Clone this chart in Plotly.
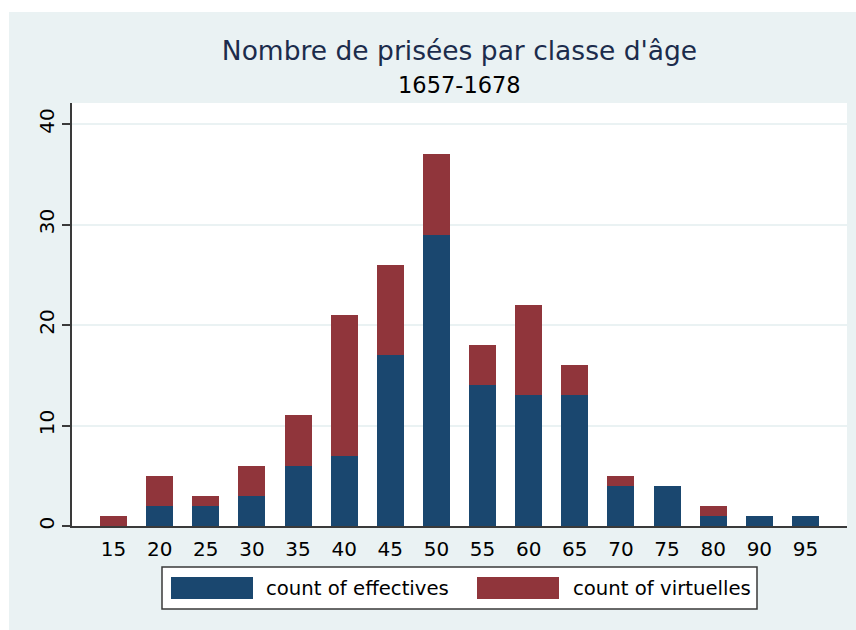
import plotly.graph_objects as go

# ---- data ----
age_classes = ["15", "20", "25", "30", "35", "40", "45", "50",
               "55", "60", "65", "70", "75", "80", "90", "95"]
effectives = [0, 2, 2, 3, 6, 7, 17, 29, 14, 13, 13, 4, 4, 1, 1, 1]
virtuelles = [1, 3, 1, 3, 5, 14, 9, 8, 4, 9, 3, 1, 0, 1, 0, 0]
y_tick_values = [0, 10, 20, 30, 40]
series_names = ["count of effectives", "count of virtuelles"]
title_text = "Nombre de prisées par classe d'âge"
subtitle_text = "1657-1678"

# ---- style ----
W, H = 856, 630
ML, MR, MT, MB = 72, 9, 103, 104
PW, PH = W - ML - MR, H - MT - MB
NAVY = "#1a476f"
MAROON = "#90353b"
BG = "#eaf2f3"
AXIS = "#3a3a3a"
FONT = "DejaVu Sans"


def px_x(x):
    return (x - ML) / PW


def px_y(y):
    return (H - MB - y) / PH


fig = go.Figure()
fig.add_trace(go.Bar(x=age_classes, y=effectives, name=series_names[0],
                     marker=dict(color=NAVY, line=dict(width=0))))
fig.add_trace(go.Bar(x=age_classes, y=virtuelles, name=series_names[1],
                     marker=dict(color=MAROON, line=dict(width=0))))

fig.update_layout(
    width=W, height=H,
    margin=dict(l=ML, r=MR, t=MT, b=MB),
    barmode="stack", bargap=0.415,
    paper_bgcolor=BG, plot_bgcolor="white",
    showlegend=False,
    font=dict(family=FONT, size=20, color="black"),
    title=dict(text=title_text, x=0.5, xref="paper", xanchor="center",
               y=1 - 51 / H, yref="container", yanchor="middle",
               font=dict(family=FONT, size=26.5, color="#1c2c4c")),
)

fig.update_xaxes(
    type="category", range=[-0.9, len(age_classes) - 0.1],
    showline=True, linecolor=AXIS, linewidth=1.5,
    ticks="", showgrid=False, tickfont=dict(size=20, color="black"),
    ticklabelstandoff=4,
)
fig.update_yaxes(
    range=[0, 42.1], tickvals=y_tick_values,
    showline=True, linecolor=AXIS, linewidth=1.5,
    ticks="outside", ticklen=8, tickcolor=AXIS, tickwidth=1.5,
    tickangle=-90, tickfont=dict(size=20, color="black"),
    showgrid=True, gridcolor=BG, gridwidth=1.5, zeroline=False,
)

# subtitle
fig.add_annotation(text=subtitle_text, xref="paper", yref="paper",
                   x=0.5, y=px_y(85), xanchor="center", yanchor="middle",
                   showarrow=False, font=dict(family=FONT, size=22.5, color="black"))

# white page border (top and left)
fig.add_shape(type="rect", xref="paper", yref="paper", layer="above",
              x0=px_x(0), x1=px_x(W), y0=px_y(12), y1=px_y(0),
              fillcolor="white", line=dict(width=0))
fig.add_shape(type="rect", xref="paper", yref="paper", layer="above",
              x0=px_x(0), x1=px_x(9), y0=px_y(H), y1=px_y(0),
              fillcolor="white", line=dict(width=0))

# legend box (drawn manually to match wide swatches)
fig.add_shape(type="rect", xref="paper", yref="paper",
              x0=px_x(162), x1=px_x(757), y0=px_y(609), y1=px_y(567),
              fillcolor="white", line=dict(color=AXIS, width=1.5))
swatches = [(171, 253, 264, NAVY), (477, 559, 571, MAROON)]
for (sx0, sx1, tx, col), name in zip(swatches, series_names):
    fig.add_shape(type="rect", xref="paper", yref="paper",
                  x0=px_x(sx0), x1=px_x(sx1), y0=px_y(599), y1=px_y(577),
                  fillcolor=col, line=dict(width=0))
    fig.add_annotation(text=name, xref="paper", yref="paper",
                       x=px_x(tx), y=px_y(588), xanchor="left", yanchor="middle",
                       showarrow=False, font=dict(family=FONT, size=19.7, color="black"))

fig.write_html("out.html",
               config={"displayModeBar": False},
               post_script="document.body.style.margin='0px';document.body.style.overflow='hidden';")
